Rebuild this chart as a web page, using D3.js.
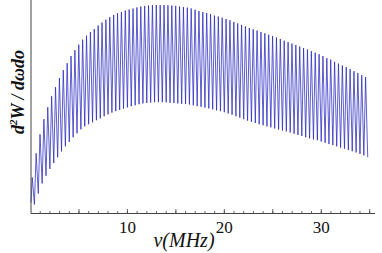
<!DOCTYPE html>
<html>
<head>
<meta charset="utf-8">
<script src="https://cdn.jsdelivr.net/npm/d3@7"></script>
<style>
  body { margin: 0; background: #fff; }
  svg text { font-family: "Liberation Serif", "Times New Roman", serif; }
</style>
</head>
<body>
<svg id="chart" width="382" height="253"></svg>
<script>
// peak frequencies (MHz) and heights (arbitrary units, 0..100)
const peakNu = [
  0.23, 0.63, 1.03, 1.43, 1.83, 2.23, 2.63, 3.03, 3.43, 3.83,
  4.23, 4.63, 5.03, 5.43, 5.83, 6.23, 6.63, 7.03, 7.43, 7.83,
  8.23, 8.63, 9.03, 9.43, 9.83, 10.23, 10.63, 11.03, 11.43, 11.83,
  12.23, 12.63, 13.03, 13.43, 13.83, 14.23, 14.63, 15.03, 15.43, 15.83,
  16.23, 16.63, 17.03, 17.43, 17.83, 18.23, 18.63, 19.03, 19.43, 19.83,
  20.23, 20.63, 21.03, 21.43, 21.83, 22.23, 22.63, 23.03, 23.43, 23.83,
  24.23, 24.63, 25.03, 25.43, 25.83, 26.23, 26.63, 27.03, 27.43, 27.83,
  28.23, 28.63, 29.03, 29.43, 29.83, 30.23, 30.63, 31.03, 31.43, 31.83,
  32.23, 32.63, 33.03, 33.43, 33.83, 34.23, 34.63
];
const peakVal = [
  17.1, 28.6, 37.6, 44.8, 50.5, 55.7, 60.0, 64.3, 68.1, 71.4,
  74.8, 77.6, 80.2, 82.6, 84.5, 86.2, 87.6, 89.3, 90.7, 92.1,
  93.3, 94.3, 95.1, 95.7, 96.4, 96.9, 97.4, 97.9, 98.3, 98.6,
  98.8, 99.0, 99.0, 99.0, 99.0, 98.9, 98.8, 98.6, 98.3, 98.1,
  97.8, 97.4, 96.8, 96.2, 95.7, 95.2, 94.7, 94.0, 93.6, 93.0,
  92.4, 91.8, 91.0, 90.3, 89.6, 88.9, 88.1, 87.5, 86.9, 86.2,
  85.6, 84.9, 84.3, 83.6, 82.9, 82.1, 81.4, 80.7, 80.0, 79.3,
  78.6, 77.9, 77.1, 76.4, 75.7, 74.8, 73.8, 73.1, 72.1, 71.2,
  70.3, 69.5, 68.6, 67.6, 66.7, 65.7, 64.8
];

// trough frequencies (MHz) and heights, first one is the start of the curve
const troughNu = [
  0.10,
  0.45, 0.85, 1.25, 1.65, 2.05, 2.45, 2.85, 3.25, 3.65, 4.05,
  4.45, 4.85, 5.25, 5.65, 6.05, 6.45, 6.85, 7.25, 7.65, 8.05,
  8.45, 8.85, 9.25, 9.65, 10.05, 10.45, 10.85, 11.25, 11.65, 12.05,
  12.45, 12.85, 13.25, 13.65, 14.05, 14.45, 14.85, 15.25, 15.65, 16.05,
  16.45, 16.85, 17.25, 17.65, 18.05, 18.45, 18.85, 19.25, 19.65, 20.05,
  20.45, 20.85, 21.25, 21.65, 22.05, 22.45, 22.85, 23.25, 23.65, 24.05,
  24.45, 24.85, 25.25, 25.65, 26.05, 26.45, 26.85, 27.25, 27.65, 28.05,
  28.45, 28.85, 29.25, 29.65, 30.05, 30.45, 30.85, 31.25, 31.65, 32.05,
  32.45, 32.85, 33.25, 33.65, 34.05, 34.45, 34.85
];
const troughVal = [
  5.2,
  4.3, 9.5, 14.3, 17.9, 21.2, 24.0, 26.7, 29.5, 31.9, 34.0,
  36.2, 38.1, 40.0, 41.4, 42.4, 43.3, 44.3, 45.2, 46.2, 47.1,
  47.9, 48.6, 49.2, 49.8, 50.4, 51.0, 51.4, 51.9, 52.3, 52.5,
  52.7, 52.9, 52.9, 52.9, 52.8, 52.6, 52.5, 52.3, 52.1, 52.0,
  51.8, 51.4, 51.0, 50.7, 50.3, 49.9, 49.5, 49.0, 48.6, 48.1,
  47.5, 46.9, 46.2, 45.5, 44.8, 44.1, 43.6, 43.0, 42.4, 41.9,
  41.4, 40.9, 40.4, 39.9, 39.4, 39.0, 38.5, 37.9, 37.3, 36.8,
  36.2, 35.7, 35.2, 34.8, 34.2, 33.6, 33.0, 32.5, 31.9, 31.3,
  30.8, 30.2, 29.6, 29.0, 28.3, 27.6, 26.7
];

const minorTicks = d3.range(1, 36);
const majorTicks = [5, 10, 15, 20, 25, 30, 35];
const labelTicks = [10, 20, 30];

const svg = d3.select("#chart");
const margin = { top: 3, left: 31, bottom: 213.5, right: 375 };

const x = d3.scaleLinear().domain([0.1, 35.6]).range([margin.left, margin.right]);
const y = d3.scaleLinear().domain([0, 100]).range([margin.bottom, margin.top]);

// interleave troughs and peaks: t0, p0, t1, p1, ...
const pts = [];
troughNu.forEach((nu, i) => {
  pts.push([nu, troughVal[i]]);
  if (i < peakNu.length) pts.push([peakNu[i], peakVal[i]]);
});

const line = d3.line().x(d => x(d[0])).y(d => y(d[1]));

svg.append("path")
  .datum(pts)
  .attr("d", line)
  .attr("fill", "none")
  .attr("stroke", "#2828c0")
  .attr("stroke-width", 0.75)
  .attr("stroke-linejoin", "miter");

// bottom axis: minor ticks, major ticks, labels
const axG = svg.append("g").attr("transform", `translate(0,${margin.bottom})`);
axG.append("g")
  .call(d3.axisBottom(x).tickValues(minorTicks).tickSize(-2.5).tickFormat(""))
  .call(g => g.select(".domain").remove());
axG.append("g")
  .call(d3.axisBottom(x).tickValues(majorTicks).tickSize(-4.5).tickFormat(""))
  .call(g => g.select(".domain").remove());
axG.append("g")
  .call(d3.axisBottom(x).tickValues(labelTicks).tickSize(0).tickPadding(7))
  .call(g => g.select(".domain").remove())
  .call(g => g.selectAll("text")
    .attr("font-size", 17)
    .attr("fill", "#111"));
axG.selectAll(".tick line").attr("stroke", "#444").attr("stroke-width", 0.8);

axG.append("line")
  .attr("x1", margin.left).attr("x2", margin.right)
  .attr("y1", 0).attr("y2", 0)
  .attr("stroke", "#444").attr("stroke-width", 1);

// left axis line, no ticks
svg.append("line")
  .attr("x1", margin.left).attr("x2", margin.left)
  .attr("y1", 0).attr("y2", margin.bottom)
  .attr("stroke", "#444").attr("stroke-width", 1);

// axis titles
svg.append("text")
  .attr("x", 184).attr("y", 247)
  .attr("text-anchor", "middle")
  .attr("font-size", 20)
  .attr("font-style", "italic")
  .attr("fill", "#111")
  .text("ν(MHz)");

svg.append("text")
  .attr("transform", "translate(24,92) rotate(-90)")
  .attr("text-anchor", "middle")
  .attr("font-size", 18)
  .attr("font-style", "italic")
  .attr("font-weight", "bold")
  .attr("fill", "#111")
  .html("d<tspan dy='-7' font-size='11'>2</tspan><tspan dy='7'>W / dωdo</tspan>");
</script>
</body>
</html>
